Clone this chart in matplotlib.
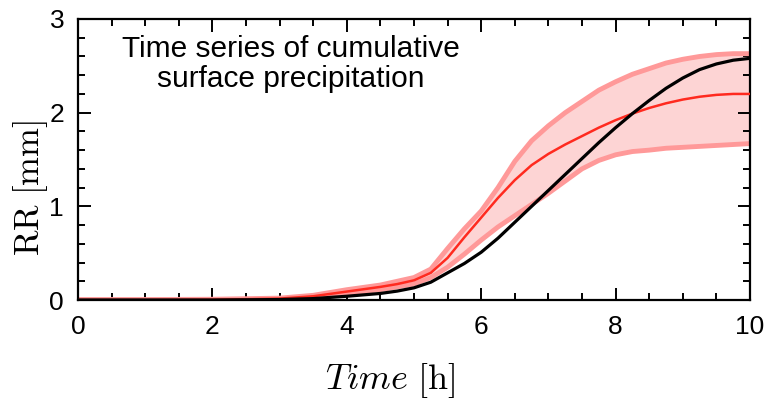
import matplotlib
matplotlib.use("Agg")
import matplotlib.pyplot as plt
from matplotlib.ticker import MultipleLocator

# ---- data ----
time_h = [0, 1, 2, 3, 3.5, 4, 4.5, 4.75, 5, 5.25, 5.5, 5.75, 6, 6.25, 6.5, 6.75,
          7, 7.25, 7.5, 7.75, 8, 8.25, 8.5, 8.75, 9, 9.25, 9.5, 9.75, 10]
rr_ref = [0, 0, 0, 0.005, 0.015, 0.04, 0.07, 0.095, 0.13, 0.19, 0.29, 0.39,
          0.51, 0.66, 0.83, 1.00, 1.17, 1.34, 1.51, 1.68, 1.84, 1.99, 2.13,
          2.26, 2.37, 2.46, 2.52, 2.56, 2.58]
rr_mean = [0, 0, 0.003, 0.015, 0.04, 0.09, 0.14, 0.17, 0.21, 0.29, 0.45, 0.67,
           0.88, 1.09, 1.28, 1.44, 1.56, 1.66, 1.75, 1.84, 1.92, 1.99, 2.05,
           2.10, 2.14, 2.17, 2.19, 2.20, 2.20]
rr_upper = [0.005, 0.005, 0.008, 0.02, 0.05, 0.11, 0.16, 0.20, 0.24, 0.33,
            0.55, 0.76, 0.95, 1.20, 1.48, 1.70, 1.86, 2.00, 2.12, 2.24, 2.33,
            2.41, 2.47, 2.53, 2.57, 2.60, 2.62, 2.63, 2.63]
rr_lower = [0, 0, 0, 0.01, 0.03, 0.07, 0.11, 0.14, 0.17, 0.24, 0.35, 0.49,
            0.64, 0.78, 0.90, 1.02, 1.14, 1.27, 1.40, 1.49, 1.55, 1.585, 1.60,
            1.62, 1.63, 1.64, 1.65, 1.66, 1.67]
x_ticks = [0, 2, 4, 6, 8, 10]
y_ticks = [0, 1, 2, 3]

plt.rcParams['mathtext.fontset'] = 'cm'
tick_font = ['Liberation Sans', 'Arial', 'DejaVu Sans']

fig = plt.figure(figsize=(7.77, 4.03), dpi=100)
ax = fig.add_axes([78/777, 1 - 300/403, (750-78)/777, (300-19)/403])

ax.fill_between(time_h, rr_lower, rr_upper, color='#fdd4d4', lw=0, zorder=1)
ax.plot(time_h, rr_upper, color='#ff9999', lw=3.5, solid_capstyle='butt', zorder=2)
ax.plot(time_h, rr_lower, color='#ff9999', lw=3.5, solid_capstyle='butt', zorder=2)
ax.plot(time_h, rr_mean, color='#ff2a1f', lw=1.8, zorder=3)
ax.plot(time_h, rr_ref, color='black', lw=2.3, zorder=4)

ax.set_xlim(0, 10)
ax.set_ylim(0, 3)
ax.set_xticks(x_ticks)
ax.set_yticks(y_ticks)
ax.set_xticklabels([str(v) for v in x_ticks], fontfamily=tick_font, fontsize=19)
ax.set_yticklabels([str(v) for v in y_ticks], fontfamily=tick_font, fontsize=19)
ax.xaxis.set_minor_locator(MultipleLocator(0.5))
ax.yaxis.set_minor_locator(MultipleLocator(0.2))
ax.tick_params(which='both', direction='in', top=True, right=True, width=1.4)
ax.tick_params(which='major', length=9)
ax.tick_params(which='minor', length=5)
ax.tick_params(axis='x', which='major', pad=11)
ax.tick_params(axis='y', which='major', pad=10)
for s in ax.spines.values():
    s.set_linewidth(1.6)

fig.text(390/777, 1 - 381/403, r'$Time\ \mathrm{[h]}$', fontsize=26,
         ha='center', va='center')
fig.text(31/777, 1 - 188/403, r'$\mathrm{RR\ [mm]}$', fontsize=25,
         ha='center', va='center', rotation=90)

fig.text(291/777, 1 - 35/403, 'Time series of cumulative\nsurface precipitation',
         ha='center', va='top', multialignment='center',
         fontsize=21.5, linespacing=1.1,
         fontfamily=['Liberation Sans', 'Arial', 'DejaVu Sans'])

fig.savefig('out.png', dpi=100)
